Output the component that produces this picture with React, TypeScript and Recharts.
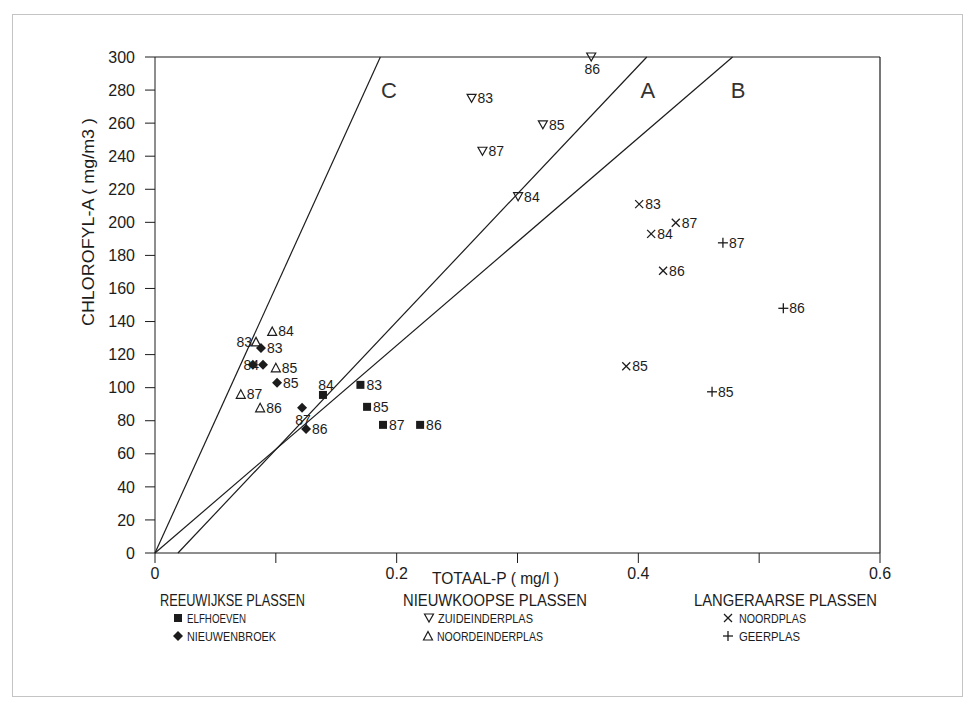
import React from "react";
import { ScatterChart, Scatter, XAxis, YAxis, ReferenceLine } from "recharts";

const INK = "#1c1c1c";
const FONT = '"Liberation Sans", Arial, sans-serif';

// Reeuwijkse plassen
const elfhoevenYears = ["83", "84", "85", "86", "87"];
const elfhoevenP = [0.17, 0.139, 0.1755, 0.2194, 0.1887];
const elfhoevenChl = [101.7, 95.6, 88.4, 77.5, 77.5];

const nieuwenbroekYears = ["83", "84", "85", "86", "87", ""];
const nieuwenbroekP = [0.0877, 0.0894, 0.101, 0.125, 0.1217, 0.081];
const nieuwenbroekChl = [124, 113.8, 103, 75, 87.8, 113.8];

// Nieuwkoopse plassen
const zuideinderYears = ["83", "84", "85", "86", "87"];
const zuideinderP = [0.262, 0.3005, 0.321, 0.361, 0.271];
const zuideinderChl = [275, 215.5, 259, 300, 243];

const noordeinderYears = ["83", "84", "85", "86", "87"];
const noordeinderP = [0.0836, 0.097, 0.1, 0.087, 0.071];
const noordeinderChl = [127.7, 134, 112, 87.8, 96];

// Langeraarse plassen
const noordplasYears = ["83", "84", "85", "86", "87"];
const noordplasP = [0.4007, 0.4106, 0.39, 0.4205, 0.431];
const noordplasChl = [211, 193, 113, 170.7, 199.7];

const geerplasYears = ["85", "86", "87"];
const geerplasP = [0.461, 0.52, 0.47];
const geerplasChl = [97.5, 148, 187.6];

// reference lines A, B, C (start / end points)
const lineNames = ["C", "A", "B"];
const lineStartP = [0, 0.019, 0];
const lineStartChl = [0, 0, 0];
const lineEndP = [0.1865, 0.407, 0.478];
const lineEndChl = [300, 300, 300];
const lineLabelP = [0.1937, 0.4079, 0.4826];
const lineLabelChl = [280, 280, 280];

const xTicks = [0, 0.1, 0.2, 0.3, 0.4, 0.5, 0.6];
const xTickLabels = ["0", "", "0.2", "", "0.4", "", "0.6"];
const yTicks = [0, 20, 40, 60, 80, 100, 120, 140, 160, 180, 200, 220, 240, 260, 280, 300];

const toPoints = (years: string[], p: number[], chl: number[]) =>
  years.map((year, i) => ({ year, p: p[i], chl: chl[i] }));

// where a year label sits relative to its marker (default: right)
const labelPlace: Record<string, string> = {
  "zuid-86": "below",
  "noordeinder-83": "left",
  "nieuwenbroek-84": "left",
  "elfhoeven-84": "above",
  "nieuwenbroek-87": "below",
};

type Kind = "square" | "diamond" | "down" | "up" | "cross" | "plus";

function Glyph({ kind, x, y }: { kind: Kind; x: number; y: number }) {
  switch (kind) {
    case "square":
      return <rect x={x - 4} y={y - 4} width={8} height={8} fill={INK} />;
    case "diamond":
      return (
        <polygon
          points={`${x},${y - 5} ${x + 5},${y} ${x},${y + 5} ${x - 5},${y}`}
          fill={INK}
        />
      );
    case "down":
      return (
        <polygon
          points={`${x - 4.5},${y - 4} ${x + 4.5},${y - 4} ${x},${y + 4}`}
          fill="none"
          stroke={INK}
          strokeWidth={1.2}
        />
      );
    case "up":
      return (
        <polygon
          points={`${x - 4.5},${y + 4} ${x + 4.5},${y + 4} ${x},${y - 4.5}`}
          fill="none"
          stroke={INK}
          strokeWidth={1.2}
        />
      );
    case "cross":
      return (
        <g stroke={INK} strokeWidth={1.3}>
          <line x1={x - 4} y1={y - 4} x2={x + 4} y2={y + 4} />
          <line x1={x - 4} y1={y + 4} x2={x + 4} y2={y - 4} />
        </g>
      );
    default:
      return (
        <g stroke={INK} strokeWidth={1.3}>
          <line x1={x - 5} y1={y} x2={x + 5} y2={y} />
          <line x1={x} y1={y - 5} x2={x} y2={y + 5} />
        </g>
      );
  }
}

const pointShape = (kind: Kind, series: string) => (props: any) => {
  const { cx, cy, payload } = props;
  const place = labelPlace[`${series}-${payload.year}`] ?? "right";
  let tx = cx + 6;
  let ty = cy;
  let anchor: "start" | "end" | "middle" = "start";
  if (place === "left") {
    tx = cx - 4;
    anchor = "end";
  } else if (place === "above") {
    tx = cx + 3;
    ty = cy - 10;
    anchor = "middle";
  } else if (place === "below") {
    tx = cx + 1;
    ty = cy + 12;
    anchor = "middle";
  }
  return (
    <g>
      <Glyph kind={kind} x={cx} y={cy} />
      {payload.year ? (
        <text
          x={tx}
          y={ty}
          dy="0.36em"
          textAnchor={anchor}
          fontSize={14}
          fontFamily={FONT}
          fill={INK}
        >
          {payload.year}
        </text>
      ) : null}
    </g>
  );
};

const lineLabelShape = (props: any) => (
  <text
    x={props.cx}
    y={props.cy}
    dy="0.36em"
    textAnchor="middle"
    fontSize={22}
    fontFamily={FONT}
    fill="#333"
  >
    {props.payload.name}
  </text>
);

const lineLabels = lineNames.map((name, i) => ({
  name,
  p: lineLabelP[i],
  chl: lineLabelChl[i],
}));

function LegendOverlay() {
  const title = { fontSize: 16, fontFamily: FONT, fill: INK, dominantBaseline: "central" as const };
  const item = { fontSize: 13, fontFamily: FONT, fill: INK, dominantBaseline: "central" as const };
  return (
    <svg
      width={955}
      height={690}
      style={{ position: "absolute", left: 0, top: 0, pointerEvents: "none" }}
    >
      <rect x={4.5} y={6.5} width={950} height={682} fill="none" stroke="#c4c4c4" />
      <text
        transform="translate(80,214) rotate(-90)"
        textAnchor="middle"
        textLength={208}
        lengthAdjust="spacingAndGlyphs"
        {...title}
      >
        CHLOROFYL-A ( mg/m3 )
      </text>
      <text x={424} y={570} textLength={127} lengthAdjust="spacingAndGlyphs" {...title}>
        TOTAAL-P ( mg/l )
      </text>

      <text x={152} y={592} textLength={145} lengthAdjust="spacingAndGlyphs" {...title}>
        REEUWIJKSE PLASSEN
      </text>
      <Glyph kind="square" x={170} y={610} />
      <text x={179} y={610} textLength={59} lengthAdjust="spacingAndGlyphs" {...item}>
        ELFHOEVEN
      </text>
      <Glyph kind="diamond" x={170} y={628} />
      <text x={179} y={628} textLength={89} lengthAdjust="spacingAndGlyphs" {...item}>
        NIEUWENBROEK
      </text>

      <text x={395} y={592} textLength={184} lengthAdjust="spacingAndGlyphs" {...title}>
        NIEUWKOOPSE PLASSEN
      </text>
      <Glyph kind="down" x={421} y={610} />
      <text x={430} y={610} textLength={95} lengthAdjust="spacingAndGlyphs" {...item}>
        ZUIDEINDERPLAS
      </text>
      <Glyph kind="up" x={420} y={628} />
      <text x={429} y={628} textLength={106} lengthAdjust="spacingAndGlyphs" {...item}>
        NOORDEINDERPLAS
      </text>

      <text x={686} y={592} textLength={183} lengthAdjust="spacingAndGlyphs" {...title}>
        LANGERAARSE PLASSEN
      </text>
      <Glyph kind="cross" x={720} y={610} />
      <text x={731} y={610} textLength={67} lengthAdjust="spacingAndGlyphs" {...item}>
        NOORDPLAS
      </text>
      <Glyph kind="plus" x={720} y={628} />
      <text x={731} y={628} textLength={61} lengthAdjust="spacingAndGlyphs" {...item}>
        GEERPLAS
      </text>
    </svg>
  );
}

export default function App() {
  const tick = { fill: INK, fontSize: 16, fontFamily: FONT };
  return (
    <div style={{ position: "relative", width: 955, height: 690, background: "#fff" }}>
      <ScatterChart
        width={955}
        height={690}
        margin={{ top: 49, right: 83, bottom: 105, left: 0 }}
      >
        <XAxis
          type="number"
          dataKey="p"
          domain={[0, 0.6]}
          ticks={xTicks}
          tickFormatter={(_v, i) => xTickLabels[i]}
          tick={tick}
          tickSize={10}
          tickMargin={5}
          height={40}
          stroke={INK}
          interval={0}
        />
        <YAxis
          type="number"
          dataKey="chl"
          domain={[0, 300]}
          ticks={yTicks}
          tick={tick}
          tickSize={10}
          tickMargin={10}
          width={147}
          stroke={INK}
          interval={0}
        />
        <ReferenceLine y={300} stroke={INK} strokeWidth={1.2} />
        <ReferenceLine x={0.6} stroke={INK} strokeWidth={1.2} />
        {lineNames.map((name, i) => (
          <ReferenceLine
            key={name}
            segment={[
              { x: lineStartP[i], y: lineStartChl[i] },
              { x: lineEndP[i], y: lineEndChl[i] },
            ]}
            stroke={INK}
            strokeWidth={1.2}
          />
        ))}
        <Scatter
          data={lineLabels}
          dataKey="chl"
          shape={lineLabelShape}
          isAnimationActive={false}
        />
        <Scatter
          data={toPoints(elfhoevenYears, elfhoevenP, elfhoevenChl)}
          shape={pointShape("square", "elfhoeven")}
          isAnimationActive={false}
        />
        <Scatter
          data={toPoints(nieuwenbroekYears, nieuwenbroekP, nieuwenbroekChl)}
          shape={pointShape("diamond", "nieuwenbroek")}
          isAnimationActive={false}
        />
        <Scatter
          data={toPoints(zuideinderYears, zuideinderP, zuideinderChl)}
          shape={pointShape("down", "zuid")}
          isAnimationActive={false}
        />
        <Scatter
          data={toPoints(noordeinderYears, noordeinderP, noordeinderChl)}
          shape={pointShape("up", "noordeinder")}
          isAnimationActive={false}
        />
        <Scatter
          data={toPoints(noordplasYears, noordplasP, noordplasChl)}
          shape={pointShape("cross", "noordplas")}
          isAnimationActive={false}
        />
        <Scatter
          data={toPoints(geerplasYears, geerplasP, geerplasChl)}
          shape={pointShape("plus", "geerplas")}
          isAnimationActive={false}
        />
      </ScatterChart>
      <LegendOverlay />
    </div>
  );
}
